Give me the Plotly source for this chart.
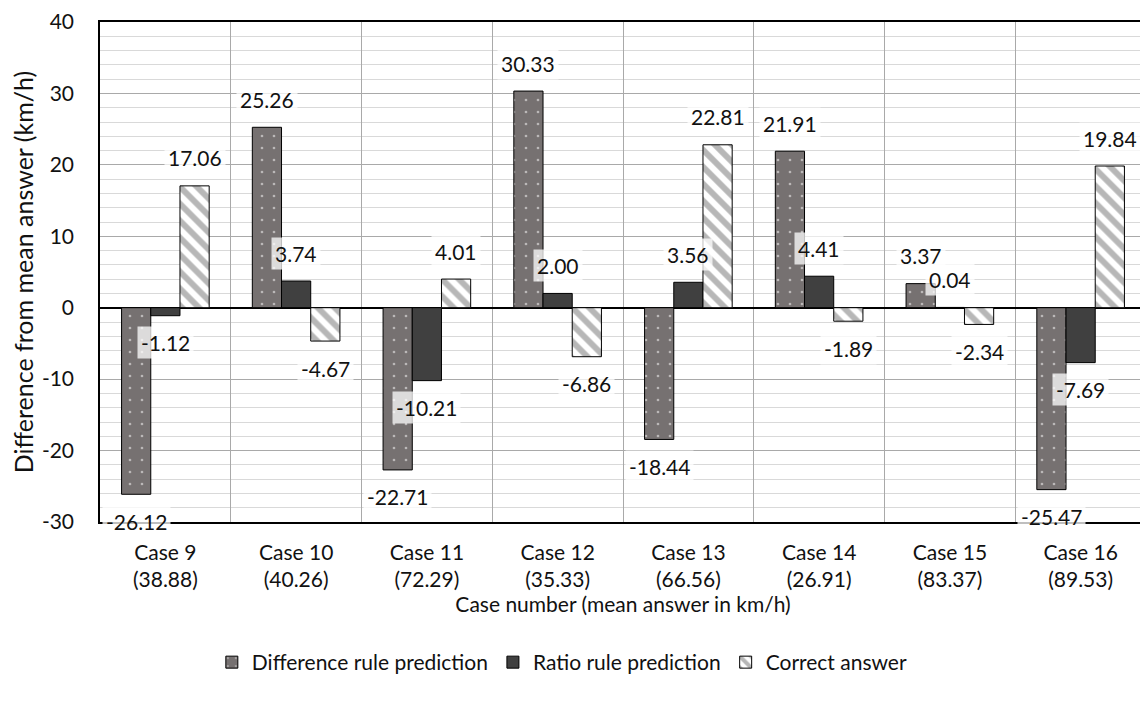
import plotly.graph_objects as go

categories = ["Case 9<br>(38.88)", "Case 10<br>(40.26)", "Case 11<br>(72.29)", "Case 12<br>(35.33)",
              "Case 13<br>(66.56)", "Case 14<br>(26.91)", "Case 15<br>(83.37)", "Case 16<br>(89.53)"]
difference_rule = [-26.12, 25.26, -22.71, 30.33, -18.44, 21.91, 3.37, -25.47]
ratio_rule = [-1.12, 3.74, -10.21, 2.00, 3.56, 4.41, 0.04, -7.69]
correct_answer = [17.06, -4.67, 4.01, -6.86, 22.81, -1.89, -2.34, 19.84]
series_names = ["Difference rule prediction", "Ratio rule prediction", "Correct answer"]
y_tick_values = [-30, -20, -10, 0, 10, 20, 30, 40]
y_tick_labels = ["-30", "-20", "-10", "0", "10", "20", "30", "40"]

FONT = "Lato"
FS = 21
TXT = "#111111"

fig = go.Figure()
fig.add_trace(go.Bar(
    x=categories, y=difference_rule, name=series_names[0],
    marker=dict(color="#767171", line=dict(color="black", width=1),
                pattern=dict(shape=".", fgcolor="white", bgcolor="#767171", size=12, solidity=0.04,
                             fillmode="overlay")),
))
fig.add_trace(go.Bar(
    x=categories, y=ratio_rule, name=series_names[1],
    marker=dict(color="#404040", line=dict(color="black", width=1)),
))
fig.add_trace(go.Bar(
    x=categories, y=correct_answer, name=series_names[2],
    marker=dict(color="white", line=dict(color="black", width=1),
                pattern=dict(shape="\\", fgcolor="#6f6f6f", bgcolor="white", size=12, solidity=0.5,
                             fillmode="overlay")),
))

bar_px = 29.2
annotations = []
for i, series in enumerate([difference_rule, ratio_rule, correct_answer]):
    for cat, v in zip(categories, series):
        annotations.append(dict(
            x=cat, y=v, xref="x", yref="y", text=f"{v:.2f}", showarrow=False,
            xshift=(i - 1) * bar_px, yshift=28 if v >= 0 else -27,
            font=dict(family=FONT, size=FS, color=TXT),
            bgcolor="rgba(255,255,255,0.75)", borderpad=3,
        ))

fig.update_layout(
    width=1140, height=696,
    margin=dict(l=92, r=0, t=12, b=182),
    plot_bgcolor="white", paper_bgcolor="white",
    barmode="group", bargap=0.33, bargroupgap=0,
    font=dict(family=FONT, size=FS, color=TXT),
    annotations=annotations,
    legend=dict(orientation="h", x=0.442, xanchor="center", y=-0.281, yanchor="middle",
                font=dict(family=FONT, size=FS, color=TXT), traceorder="normal",
                itemwidth=30, tracegroupgap=0),
    xaxis=dict(type="category", tickson="boundaries", showgrid=True, gridcolor="#a9a9a9",
               gridwidth=1, showline=True, linecolor="black", linewidth=1.5, mirror=True,
               ticks="", ticklabelstandoff=11, tickfont=dict(family=FONT, size=FS, color=TXT),
               title=dict(text="Case number (mean answer in km/h)",
                          font=dict(family=FONT, size=FS, color=TXT), standoff=4)),
    yaxis=dict(range=[-30, 40], tickmode="array", tickvals=y_tick_values, ticktext=y_tick_labels,
               showgrid=True, gridcolor="#a9a9a9", gridwidth=1,
               minor=dict(dtick=2, tick0=0, showgrid=True, gridcolor="#d9d9d9", gridwidth=1),
               zeroline=True, zerolinecolor="black", zerolinewidth=1.5,
               showline=True, linecolor="black", linewidth=1.5, mirror=True,
               ticks="", ticklabelstandoff=20, ticklabeloverflow="allow",
               tickfont=dict(family=FONT, size=FS, color=TXT),
               title=dict(text="Difference from mean answer (km/h)",
                          font=dict(family=FONT, size=25, color=TXT), standoff=6)),
)

fig.write_html("out.html")
